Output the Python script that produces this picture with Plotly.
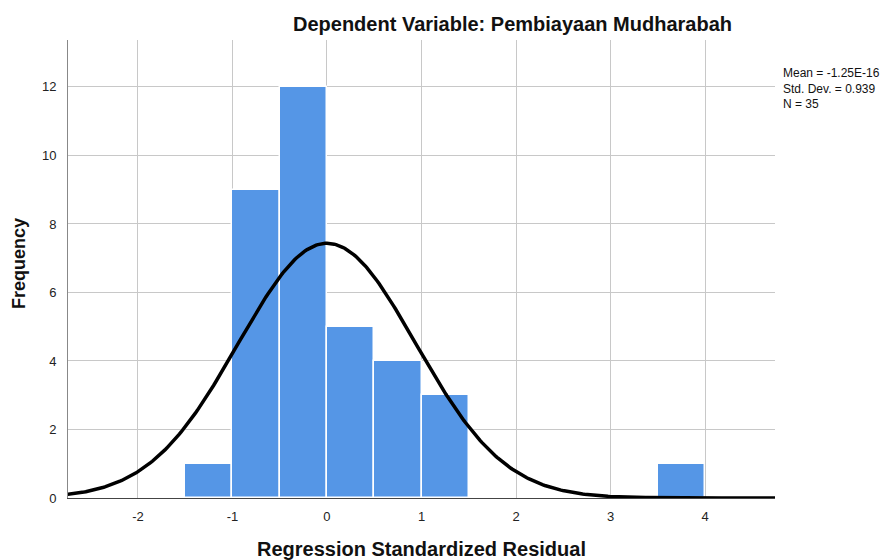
import numpy as np
import plotly.graph_objects as go

bin_left = [-1.5, -1.0, -0.5, 0.0, 0.5, 1.0, 3.5]
bin_width = 0.5
counts = [1, 9, 12, 5, 4, 3, 1]
mean_val = -1.25e-16
std_val = 0.939
n_val = 35

centers = [b + bin_width / 2 for b in bin_left]

xs = np.linspace(-2.8, 4.8, 400)
ys = n_val * bin_width / (std_val * np.sqrt(2 * np.pi)) * np.exp(-0.5 * ((xs - mean_val) / std_val) ** 2)

fig = go.Figure()
fig.add_trace(go.Bar(x=centers, y=counts, width=bin_width,
                     marker=dict(color="#5596e6", line=dict(color="white", width=1.5)),
                     showlegend=False))
fig.add_trace(go.Scatter(x=xs, y=ys, mode="lines", line=dict(color="black", width=3.5),
                         showlegend=False))

font = "Arial, Liberation Sans, sans-serif"
OFF = 8  # page body margin
W, H = 891 - OFF, 560 - OFF
L, T = 68 - OFF, 40 - OFF
R = W - (775 - OFF)
B = H - (498 - OFF)
PW, PH = W - L - R, H - T - B
fig.update_layout(
    width=W, height=H,
    margin=dict(l=L, r=R, t=T, b=B, autoexpand=False),
    plot_bgcolor="white", paper_bgcolor="white",
    font=dict(family=font, color="#222222"),
    bargap=0,
    xaxis=dict(range=[-2.74, 4.74], tickvals=[-2, -1, 0, 1, 2, 3, 4],
               ticktext=["-2", "-1", "0", "1", "2", "3", "4"],
               showgrid=True, gridcolor="#c8c8c8", gridwidth=1, zeroline=False,
               showline=True, linecolor="#444444", linewidth=1, ticks="",
               automargin=False, ticklabelstandoff=6,
               tickfont=dict(size=13, color="#222222")),
    yaxis=dict(range=[0, 13.37], tickvals=[0, 2, 4, 6, 8, 10, 12],
               showgrid=True, gridcolor="#c8c8c8", gridwidth=1, zeroline=False,
               showline=True, linecolor="#888888", linewidth=1, ticks="",
               automargin=False, ticklabelstandoff=8,
               tickfont=dict(size=13, color="#222222")),
)

fig.add_annotation(xref="paper", yref="paper", x=(512 - 68) / PW, y=1, yshift=16,
                   text="<b>Dependent Variable: Pembiayaan Mudharabah</b>", showarrow=False,
                   font=dict(size=20, color="#111111"), xanchor="center", yanchor="middle")
fig.add_annotation(xref="paper", yref="paper", x=(421 - 68) / PW, y=0, yshift=-51,
                   text="<b>Regression Standardized Residual</b>", showarrow=False,
                   font=dict(size=20, color="#111111"), xanchor="center", yanchor="middle")
fig.add_annotation(xref="paper", yref="paper", x=0, xshift=-49, y=(498 - 264) / PH,
                   text="<b>Frequency</b>", showarrow=False, textangle=-90,
                   font=dict(size=18, color="#111111"), xanchor="center", yanchor="middle")
fig.add_annotation(xref="paper", yref="paper", x=1, xshift=6, y=(498 - 64) / PH,
                   text=f"Mean = -1.25E-16<br>Std. Dev. = {std_val}<br>N = {n_val}",
                   showarrow=False, align="left", xanchor="left", yanchor="top",
                   font=dict(size=12, color="#111111"))

fig.write_html("out.html")
